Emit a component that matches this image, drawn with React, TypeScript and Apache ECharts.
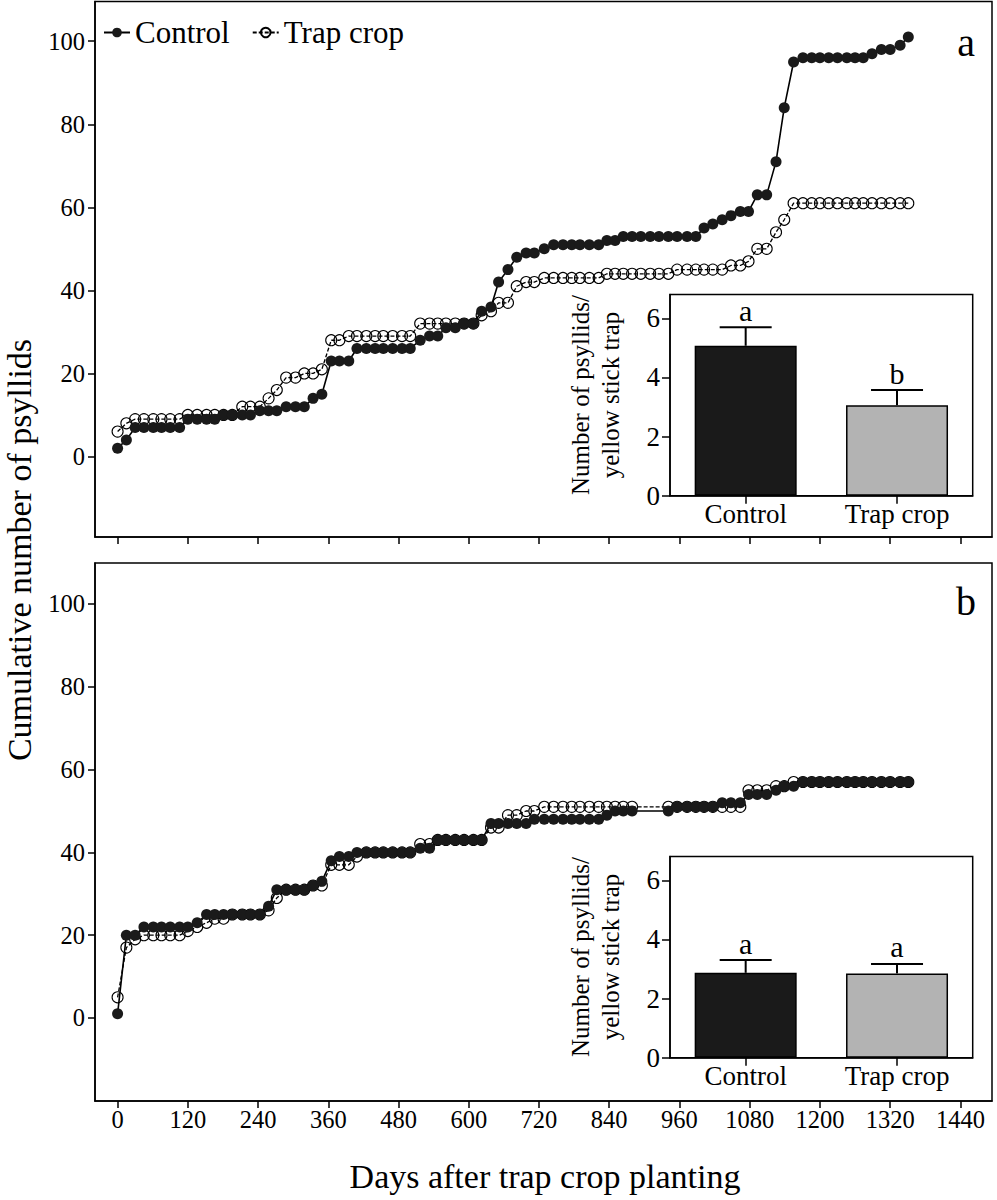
import React, { useEffect, useRef } from "react";
import * as echarts from "echarts";

// Sampling days (read from the point positions)
const days = [
  0, 15, 30, 45, 61, 75, 90, 106, 120, 136,
  152, 166, 181, 196, 213, 227, 243, 258, 272, 288,
  304, 319, 334, 349, 365, 379, 395, 409, 425, 440,
  454, 470, 486, 500, 517, 533, 547, 561, 577, 592,
  608, 622, 638, 651, 667, 682, 698, 712, 729, 745,
  761, 776, 790, 806, 822, 836, 850, 864, 879, 894,
  910, 925, 941, 956, 973, 988, 1002, 1017, 1033, 1048,
  1064, 1078, 1093, 1109, 1125, 1139, 1155, 1171, 1186, 1200,
  1215, 1230, 1246, 1260, 1274, 1289, 1305, 1320, 1337, 1351,
];

// Panel a
const controlA = [
  2, 4, 7, 7, 7, 7, 7, 7, 9, 9,
  9, 9, 10, 10, 10, 10, 11, 11, 11, 12,
  12, 12, 14, 15, 23, 23, 23, 26, 26, 26,
  26, 26, 26, 26, 28, 29, 29, 31, 31, 32,
  32, 35, 36, 42, 45, 48, 49, 49, 50, 51,
  51, 51, 51, 51, 51, 52, 52, 53, 53, 53,
  53, 53, 53, 53, 53, 53, 55, 56, 57, 58,
  59, 59, 63, 63, 71, 84, 95, 96, 96, 96,
  96, 96, 96, 96, 96, 97, 98, 98, 99, 101,
];
const trapA = [
  6, 8, 9, 9, 9, 9, 9, 9, 10, 10,
  10, 10, 10, 10, 12, 12, 12, 14, 16, 19,
  19, 20, 20, 21, 28, 28, 29, 29, 29, 29,
  29, 29, 29, 29, 32, 32, 32, 32, 32, 32,
  32, 34, 35, 37, 37, 41, 42, 42, 43, 43,
  43, 43, 43, 43, 43, 44, 44, 44, 44, 44,
  44, 44, 44, 45, 45, 45, 45, 45, 45, 46,
  46, 47, 50, 50, 54, 57, 61, 61, 61, 61,
  61, 61, 61, 61, 61, 61, 61, 61, 61, 61,
];

// Panel b (null = no sample on that date)
const controlB = [
  1, 20, 20, 22, 22, 22, 22, 22, 22, 23,
  25, 25, 25, 25, 25, 25, 25, 27, 31, 31,
  31, 31, 32, 33, 38, 39, 39, 40, 40, 40,
  40, 40, 40, 40, 41, 41, 43, 43, 43, 43,
  43, 43, 47, 47, 47, 47, 47, 48, 48, 48,
  48, 48, 48, 48, 48, 49, 50, 50, 50, null,
  null, null, 50, 51, 51, 51, 51, 51, 52, 52,
  52, 54, 54, 54, 55, 56, 56, 57, 57, 57,
  57, 57, 57, 57, 57, 57, 57, 57, 57, 57,
];
const trapB = [
  5, 17, 19, 20, 20, 20, 20, 20, 21, 22,
  23, 24, 24, 25, 25, 25, 25, 26, 29, 31,
  31, 31, 32, 32, 37, 37, 37, 39, 40, 40,
  40, 40, 40, 40, 42, 42, 43, 43, 43, 43,
  43, 43, 46, 46, 49, 49, 50, 50, 51, 51,
  51, 51, 51, 51, 51, 51, 51, 51, 51, null,
  null, null, 51, 51, 51, 51, 51, 51, 51, 51,
  51, 55, 55, 55, 56, 56, 57, 57, 57, 57,
  57, 57, 57, 57, 57, 57, 57, 57, 57, 57,
];

const xTicks = [0, 120, 240, 360, 480, 600, 720, 840, 960, 1080, 1200, 1320, 1440];
const yTicks = [0, 20, 40, 60, 80, 100];

// Insets
const insetCategories = ["Control", "Trap crop"];
const insetTicks = [0, 2, 4, 6];
const meansA = [5.07, 3.06];
const upperA = [5.7, 3.57];
const lettersA = ["a", "b"];
const meansB = [2.87, 2.85];
const upperB = [3.3, 3.17];
const lettersB = ["a", "a"];
const barColors = ["#1a1a1a", "#b3b3b3"];

const FF = "'Liberation Serif', 'Times New Roman', serif";
const plain = (v: number) => String(v);

function mainX(gridIndex: number, showLabels: boolean) {
  return {
    gridIndex,
    type: "value",
    min: -38.6,
    max: 1494,
    axisLine: { show: true, onZero: false, lineStyle: { color: "#000", width: 1.5 } },
    axisTick: { show: true, length: 7, customValues: xTicks, lineStyle: { color: "#000", width: 1.5 } },
    axisLabel: {
      show: showLabels,
      customValues: xTicks,
      formatter: plain,
      fontSize: 24.5,
      fontFamily: FF,
      color: "#000",
      margin: 6,
    },
    splitLine: { show: false },
  };
}

function mainY(gridIndex: number, min: number, max: number) {
  return {
    gridIndex,
    type: "value",
    min,
    max,
    axisLine: { show: true, onZero: false, lineStyle: { color: "#000", width: 1.5 } },
    axisTick: { show: true, length: 7, customValues: yTicks, lineStyle: { color: "#000", width: 1.5 } },
    axisLabel: { customValues: yTicks, formatter: plain, fontSize: 24.5, fontFamily: FF, color: "#000", margin: 10 },
    splitLine: { show: false },
  };
}

function insetX(gridIndex: number) {
  return {
    gridIndex,
    type: "category",
    data: insetCategories,
    axisLine: { show: true, onZero: false, lineStyle: { color: "#000", width: 1.5 } },
    axisTick: { show: true, alignWithLabel: true, length: 8, lineStyle: { color: "#000", width: 1.5 } },
    axisLabel: { fontSize: 27, fontFamily: FF, color: "#000", margin: 5 },
    splitLine: { show: false },
  };
}

function insetY(gridIndex: number) {
  return {
    gridIndex,
    type: "value",
    min: 0,
    max: 6.8,
    axisLine: { show: true, onZero: false, lineStyle: { color: "#000", width: 1.5 } },
    axisTick: { show: true, length: 8, customValues: insetTicks, lineStyle: { color: "#000", width: 1.5 } },
    axisLabel: { customValues: insetTicks, formatter: plain, fontSize: 27, fontFamily: FF, color: "#000", margin: 10 },
    splitLine: { show: false },
  };
}

function lineSeries(name: string, values: (number | null)[], axis: number, filled: boolean) {
  return {
    name,
    type: "line",
    xAxisIndex: axis,
    yAxisIndex: axis,
    data: days.map((d, i) => [d, values[i]]),
    connectNulls: true,
    symbol: "circle",
    symbolSize: 11,
    showAllSymbol: true,
    z: filled ? 4 : 3,
    itemStyle: filled
      ? { color: "#1a1a1a", borderColor: "#1a1a1a", borderWidth: 0 }
      : { color: "rgba(255,255,255,0)", borderColor: "#000", borderWidth: 1.1 },
    lineStyle: filled
      ? { color: "#000", width: 1.6, type: "solid" }
      : { color: "#000", width: 1.3, type: [4, 2] },
  };
}

function barSeries(means: number[], axis: number) {
  return {
    type: "bar",
    xAxisIndex: axis,
    yAxisIndex: axis,
    barWidth: 102,
    z: 5,
    itemStyle: { borderColor: "#000", borderWidth: 1.5 },
    data: means.map((v, i) => ({ value: v, itemStyle: { color: barColors[i], borderColor: "#000", borderWidth: 1.5 } })),
  };
}

function errSeries(means: number[], upper: number[], letters: string[], axis: number) {
  return {
    type: "custom",
    xAxisIndex: axis,
    yAxisIndex: axis,
    z: 6,
    clip: false,
    data: means.map((m, i) => [i, m, upper[i]]),
    renderItem: (params: any, api: any) => {
      const idx = api.value(0);
      const base = api.coord([idx, api.value(1)]);
      const top = api.coord([idx, api.value(2)]);
      const half = 26;
      return {
        type: "group",
        children: [
          { type: "line", shape: { x1: base[0], y1: base[1], x2: top[0], y2: top[1] }, style: { stroke: "#000", lineWidth: 2 } },
          { type: "line", shape: { x1: top[0] - half, y1: top[1], x2: top[0] + half, y2: top[1] }, style: { stroke: "#000", lineWidth: 2 } },
          {
            type: "text",
            x: top[0],
            y: top[1] - 2,
            style: {
              text: letters[params.dataIndex],
              fontSize: 30,
              fontFamily: FF,
              fill: "#000",
              textAlign: "center",
              textVerticalAlign: "bottom",
            },
          },
        ],
      };
    },
  };
}

export default function App() {
  const ref = useRef<HTMLDivElement>(null);

  useEffect(() => {
    document.body.style.margin = "0";
    if (!ref.current) return;
    const chart = echarts.init(ref.current, null, { renderer: "svg" });
    const gridBase = { show: true, borderColor: "#000", borderWidth: 1.5, containLabel: false, outerBoundsMode: "none" };
    const option: any = {
      animation: false,
      backgroundColor: "#fff",
      textStyle: { fontFamily: FF },
      legend: {
        left: 98,
        top: 12,
        itemWidth: 26,
        itemHeight: 12,
        itemGap: 22,
        selectedMode: false,
        data: ["Control", "Trap crop"],
        textStyle: { fontSize: 31, fontFamily: FF, color: "#000" },
      },
      grid: [
        { ...gridBase, left: 95, width: 897, top: 1.5, height: 535.5, backgroundColor: "transparent" },
        { ...gridBase, left: 95, width: 897, top: 563, height: 538, backgroundColor: "transparent" },
        { ...gridBase, left: 670, width: 302.7, top: 294.6, height: 201.1, backgroundColor: "#fff" },
        { ...gridBase, left: 670, width: 302.7, top: 856.6, height: 201.1, backgroundColor: "#fff" },
      ],
      xAxis: [mainX(0, false), mainX(1, true), insetX(2), insetX(3)],
      yAxis: [mainY(0, -19.38, 109.56), mainY(1, -20.05, 109.9), insetY(2), insetY(3)],
      series: [
        lineSeries("Trap crop", trapA, 0, false),
        lineSeries("Control", controlA, 0, true),
        lineSeries("Trap crop", trapB, 1, false),
        lineSeries("Control", controlB, 1, true),
        barSeries(meansA, 2),
        errSeries(meansA, upperA, lettersA, 2),
        barSeries(meansB, 3),
        errSeries(meansB, upperB, lettersB, 3),
      ],
      graphic: [
        {
          type: "text",
          x: 19,
          y: 550,
          rotation: Math.PI / 2,
          style: { text: "Cumulative number of psyllids", fontSize: 34, fontFamily: FF, fill: "#000", textAlign: "center", textVerticalAlign: "middle" },
        },
        {
          type: "text",
          x: 545,
          y: 1176,
          style: { text: "Days after trap crop planting", fontSize: 34, fontFamily: FF, fill: "#000", textAlign: "center", textVerticalAlign: "middle" },
        },
        {
          type: "text",
          x: 966,
          y: 42,
          style: { text: "a", fontSize: 40, fontFamily: FF, fill: "#000", textAlign: "center", textVerticalAlign: "middle" },
        },
        {
          type: "text",
          x: 966,
          y: 601,
          style: { text: "b", fontSize: 40, fontFamily: FF, fill: "#000", textAlign: "center", textVerticalAlign: "middle" },
        },
        {
          type: "text",
          x: 595,
          y: 395,
          rotation: Math.PI / 2,
          style: { text: "Number of psyllids/\nyellow stick trap", fontSize: 25, lineHeight: 30, fontFamily: FF, fill: "#000", textAlign: "center", textVerticalAlign: "middle" },
        },
        {
          type: "text",
          x: 595,
          y: 957,
          rotation: Math.PI / 2,
          style: { text: "Number of psyllids/\nyellow stick trap", fontSize: 25, lineHeight: 30, fontFamily: FF, fill: "#000", textAlign: "center", textVerticalAlign: "middle" },
        },
      ],
    };
    chart.setOption(option);
    return () => chart.dispose();
  }, []);

  return <div ref={ref} style={{ width: 997, height: 1200 }} />;
}
